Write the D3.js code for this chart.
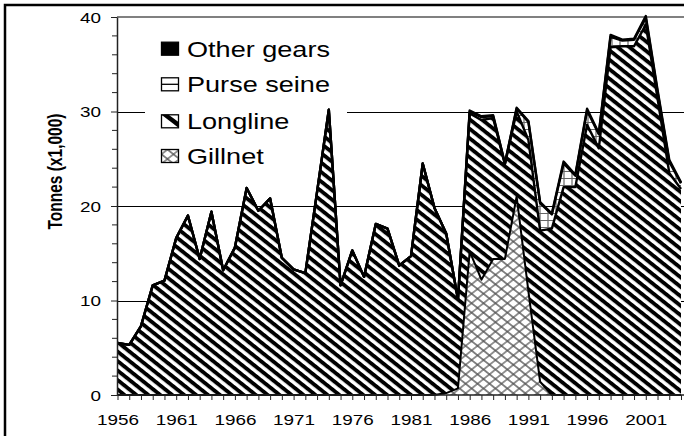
<!DOCTYPE html>
<html>
<head>
<meta charset="utf-8">
<script src="https://cdn.jsdelivr.net/npm/d3@7/dist/d3.min.js"></script>
<style>
  body { margin: 0; background: #fff; }
  svg { display: block; }
  text { font-family: "Liberation Sans", Arial, sans-serif; fill: #000; }
</style>
</head>
<body>
<div id="chart"></div>
<script>
// catch by gear, tonnes x1,000
const years = [1956, 1957, 1958, 1959, 1960, 1961, 1962, 1963, 1964, 1965,
  1966, 1967, 1968, 1969, 1970, 1971, 1972, 1973, 1974, 1975,
  1976, 1977, 1978, 1979, 1980, 1981, 1982, 1983, 1984, 1985,
  1986, 1987, 1988, 1989, 1990, 1991, 1992, 1993, 1994, 1995,
  1996, 1997, 1998, 1999, 2000, 2001, 2002, 2003, 2004];

const gillnet = [0, 0, 0, 0, 0, 0, 0, 0, 0, 0,
  0, 0, 0, 0, 0, 0, 0, 0, 0, 0,
  0, 0, 0, 0, 0, 0, 0, 0, 0.2, 0.7,
  15.2, 12.2, 14.4, 14.4, 21.0, 11.0, 1.4, 0, 0, 0,
  0, 0, 0, 0, 0, 0, 0, 0, 0];

const longline = [5.5, 5.3, 7.3, 11.6, 12.1, 16.6, 19.0, 14.4, 19.4, 13.2,
  15.6, 21.9, 19.5, 20.8, 14.5, 13.3, 12.9, 21.5, 30.2, 11.6,
  15.3, 12.5, 18.1, 17.6, 13.7, 14.7, 24.5, 19.8, 16.9, 9.4,
  14.6, 16.9, 14.9, 10.0, 9.0, 16.0, 16.0, 17.6, 22.0, 22.0,
  28.6, 26.1, 36.8, 36.9, 36.9, 39.2, 31.4, 23.5, 21.8];

const purseSeine = [0, 0, 0, 0, 0, 0, 0, 0, 0, 0,
  0, 0, 0, 0, 0, 0, 0, 0, 0, 0,
  0, 0, 0, 0, 0, 0, 0, 0, 0, 0,
  0.2, 0.3, 0.2, 0.1, 0.3, 1.9, 2.9, 1.5, 2.5, 1.2,
  1.5, 1.5, 1.1, 0.6, 0.7, 0.7, 0.7, 1.2, 0.6];

const otherGears = [0, 0, 0, 0, 0, 0, 0, 0, 0, 0,
  0, 0, 0, 0, 0, 0, 0, 0, 0, 0,
  0, 0, 0, 0, 0, 0, 0, 0, 0, 0,
  0.1, 0.1, 0.1, 0, 0.1, 0.1, 0.1, 0.1, 0.2, 0.1,
  0.2, 0.1, 0.2, 0.1, 0.1, 0.2, 0.2, 0.2, 0.1];

const yMajor = [0, 10, 20, 30, 40];
const legendNames = ['Other gears', 'Purse seine', 'Longline', 'Gillnet'];
const seriesKeys = ['gillnet', 'longline', 'purseSeine', 'otherGears'];

const width = 684, height = 436;
const stretch = 1.26; // the original figure is widened a bit

const table = years.map((yr, i) => ({
  year: yr,
  gillnet: gillnet[i],
  longline: longline[i],
  purseSeine: purseSeine[i],
  otherGears: otherGears[i]
}));

const svg = d3.select('#chart').append('svg')
  .attr('width', width)
  .attr('height', height);

const x = d3.scaleLinear().domain([1956, 2004]).range([117.5, 681]);
const y = d3.scaleLinear().domain([0, 40]).range([395, 17]);

// patterns
const defs = svg.append('defs');

const pLong = defs.append('pattern')
  .attr('id', 'pLong')
  .attr('patternUnits', 'userSpaceOnUse')
  .attr('width', 6.7).attr('height', 6.7)
  .attr('patternTransform', `scale(${stretch},1) rotate(45)`);
pLong.append('rect').attr('width', 6.7).attr('height', 6.7).attr('fill', '#fff');
pLong.append('rect').attr('width', 6.7).attr('height', 3.5).attr('fill', '#000');

const pGill = defs.append('pattern')
  .attr('id', 'pGill')
  .attr('patternUnits', 'userSpaceOnUse')
  .attr('width', 6.7).attr('height', 6.7)
  .attr('patternTransform', `scale(${stretch},1) rotate(45)`);
pGill.append('rect').attr('width', 6.7).attr('height', 6.7).attr('fill', '#fff');
pGill.append('path').attr('d', 'M0,3.35H6.7M3.35,0V6.7')
  .attr('stroke', '#555').attr('stroke-width', 1.1);

const pPurse = defs.append('pattern')
  .attr('id', 'pPurse')
  .attr('patternUnits', 'userSpaceOnUse')
  .attr('width', 8).attr('height', 7);
pPurse.append('rect').attr('width', 8).attr('height', 7).attr('fill', '#fff');
pPurse.append('path').attr('d', 'M0,3.5H8M4,0V7')
  .attr('stroke', '#666').attr('stroke-width', 1.2);

const fills = {
  gillnet: 'url(#pGill)',
  longline: 'url(#pLong)',
  purseSeine: 'url(#pPurse)',
  otherGears: '#000'
};

// outer frame
svg.append('path')
  .attr('d', `M5,${height}V5H${width}`)
  .attr('fill', 'none')
  .attr('stroke', '#000')
  .attr('stroke-width', 2.5);

// gridlines
svg.append('g').selectAll('line')
  .data([10, 20, 30])
  .enter().append('line')
  .attr('x1', 117).attr('x2', width)
  .attr('y1', d => Math.round(y(d)) + 0.5)
  .attr('y2', d => Math.round(y(d)) + 0.5)
  .attr('stroke', '#000')
  .attr('stroke-width', 1);

svg.append('line')
  .attr('x1', 117).attr('x2', width)
  .attr('y1', y(40)).attr('y2', y(40))
  .attr('stroke', '#808080')
  .attr('stroke-width', 2);

// legend background sits under the data
svg.append('rect')
  .attr('x', 145).attr('y', 25)
  .attr('width', 202).attr('height', 153)
  .attr('fill', '#fff');

// stacked areas
const stacked = d3.stack().keys(seriesKeys)(table);

const area = d3.area()
  .x(d => x(d.data.year))
  .y0(d => y(d[0]))
  .y1(d => y(d[1]));

const topLine = d3.line()
  .x(d => x(d.data.year))
  .y(d => y(d[1]));

const plot = svg.append('g');

plot.selectAll('.layer')
  .data(stacked)
  .enter().append('path')
  .attr('class', 'layer')
  .attr('d', area)
  .attr('fill', d => fills[d.key]);

plot.selectAll('.edge')
  .data(stacked)
  .enter().append('path')
  .attr('class', 'edge')
  .attr('d', topLine)
  .attr('fill', 'none')
  .attr('stroke', '#000')
  .attr('stroke-linejoin', 'round')
  .attr('stroke-width', d => d.key === 'gillnet' ? 2 : 2.4);

// y axis
const yAxis = svg.append('g')
  .attr('transform', 'translate(117,0)')
  .call(d3.axisLeft(y).tickValues(yMajor).tickSize(6).tickSizeOuter(0));

yAxis.select('.domain').attr('stroke', '#222').attr('stroke-width', 1.5);
yAxis.selectAll('.tick line').attr('stroke', '#222');
yAxis.selectAll('.tick text')
  .attr('x', 0)
  .attr('dy', '0.36em')
  .attr('transform', `translate(-16,0) scale(${stretch},1)`)
  .style('font-size', '15px')
  .style('font-family', '"Liberation Sans", Arial, sans-serif');

svg.append('g').selectAll('line')
  .data(y.ticks(20).filter(d => d % 10 !== 0))
  .enter().append('line')
  .attr('x1', 112).attr('x2', 117)
  .attr('y1', d => y(d)).attr('y2', d => y(d))
  .attr('stroke', '#222');

// x axis
const xAxis = svg.append('g')
  .attr('transform', 'translate(0,395)')
  .call(d3.axisBottom(x)
    .tickValues(years.concat([2005]))
    .tickSize(5)
    .tickSizeOuter(0)
    .tickFormat(d => (d - 1956) % 5 === 0 ? d : ''));

xAxis.select('.domain').attr('d', `M117,0H${width}`).attr('stroke', '#222').attr('stroke-width', 1.5);
xAxis.selectAll('.tick line').attr('stroke', '#222');
xAxis.selectAll('.tick text')
  .attr('y', 19)
  .attr('transform', `scale(${stretch},1)`)
  .style('font-size', '15px')
  .style('font-family', '"Liberation Sans", Arial, sans-serif');

// y title
svg.append('text')
  .attr('transform', `translate(55.5,171.5) scale(${stretch},1) rotate(-90)`)
  .attr('text-anchor', 'middle')
  .attr('dy', '0.35em')
  .style('font-size', '15.5px')
  .style('font-weight', 'bold')
  .text('Tonnes (x1,000)');

// legend
const legendBase = [56.7, 92.3, 129.3, 164];
const boxX = 161.5, boxW = 17, boxH = 13;

const legend = svg.append('g').attr('class', 'legend');

const items = legend.selectAll('.legend-item')
  .data(legendNames)
  .enter().append('g')
  .attr('class', 'legend-item')
  .attr('transform', (d, i) => `translate(${boxX},${legendBase[i] - 14.5})`);

// marker contents, drawn like the small swatches of the original
items.each(function (d, i) {
  const g = d3.select(this);
  if (i === 0) {
    g.append('rect').attr('width', boxW).attr('height', boxH).attr('fill', '#000');
  } else if (i === 1) {
    g.append('rect').attr('width', boxW).attr('height', boxH).attr('fill', '#fff');
    g.append('line').attr('x1', 0).attr('x2', boxW)
      .attr('y1', boxH / 2).attr('y2', boxH / 2)
      .attr('stroke', '#000').attr('stroke-width', 1.3);
  } else if (i === 2) {
    g.append('rect').attr('width', boxW).attr('height', boxH).attr('fill', '#fff');
    g.append('path')
      .attr('d', `M0,0L${boxW},${boxH}L${boxW},${boxH * 0.55}L${boxW * 0.42},0Z`)
      .attr('fill', '#000');
  } else {
    g.append('rect').attr('width', boxW).attr('height', boxH).attr('fill', 'url(#pGill)');
  }
});

items.append('rect')
  .attr('width', boxW)
  .attr('height', boxH)
  .attr('fill', 'none')
  .attr('stroke', '#000')
  .attr('stroke-width', 1.3);

items.append('text')
  .attr('transform', `translate(${187 - boxX},14.5) scale(${stretch},1)`)
  .style('font-size', '21.5px')
  .text(d => d);
</script>
</body>
</html>
